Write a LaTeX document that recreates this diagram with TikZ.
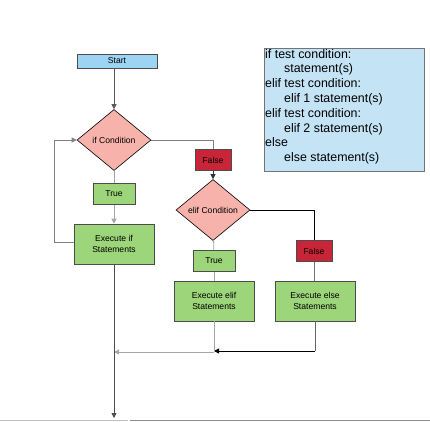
\documentclass[tikz,border=0pt]{standalone}
\usepackage{fontspec}
\setmainfont{Liberation Sans}
\usetikzlibrary{shapes.geometric,arrows.meta}
\definecolor{startblue}{HTML}{9DD3F3}
\definecolor{codeblue}{HTML}{C4E4F6}
\definecolor{diapink}{HTML}{F7B3AB}
\definecolor{falsered}{HTML}{C82638}
\definecolor{boxgreen}{HTML}{9DD57A}
\tikzset{
  base/.style={draw=black!70, line width=0.6pt, inner sep=0pt, align=center, font=\fontsize{8.6}{10.5}\selectfont},
  startbox/.style={base, fill=startblue, minimum width=80pt, minimum height=14pt},
  decision/.style={base, diamond, fill=diapink, draw=black, minimum width=74pt, minimum height=61pt, aspect=1.2},
  falsebox/.style={base, fill=falsered, minimum width=36pt, minimum height=21pt},
  truebox/.style={base, fill=boxgreen, minimum width=42pt, minimum height=21pt},
  execbox/.style={base, fill=boxgreen, minimum width=80pt, minimum height=40pt},
  conn/.style={line width=0.8pt, draw=black!65},
  lightconn/.style={line width=0.8pt, draw=black!35},
  tip/.style={-{Triangle[length=5pt,width=5pt]}},
}
\begin{document}
\begin{tikzpicture}[x=1pt,y=-1pt]
\useasboundingbox (0,0) rectangle (430,421);
% nodes
\node[startbox] (start) at (117,61) {Start};
\node[decision] (ifc) at (114,140) {if Condition};
\node[truebox] (t1) at (114,194) {True};
\node[execbox] (exif) at (114,244) {Execute if\\Statements};
\node[falsebox] (f1) at (213,160) {False};
\node[decision] (elifc) at (213,210) {elif Condition};
\node[truebox] (t2) at (214,261) {True};
\node[execbox] (exelif) at (214,301) {Execute elif\\Statements};
\node[falsebox] (f2) at (314,251) {False};
\node[execbox] (exelse) at (315,301) {Execute else\\Statements};
\node[base, draw=black!55, fill=codeblue, minimum width=160pt, minimum height=123pt] (code) at (344,109.5) {};
\node[anchor=north west, inner sep=0pt, align=left, font=\fontsize{12.4}{14.8}\selectfont] (codetext) at (265,49)
 {if test condition:\\
 \hspace{19pt}statement(s)\\
 elif test condition:\\
 \hspace{19pt}elif 1 statement(s)\\
 elif test condition:\\
 \hspace{19pt}elif 2 statement(s)\\
 else\\
 \hspace{19pt}else statement(s)};
% coordinates
\coordinate (loopL) at (54,242);
\coordinate (loopT) at (54,140);
\coordinate (ifR) at (213,140);
\coordinate (elifR) at (314,210);
\coordinate (mergeElse) at (315,351);
\coordinate (mergeElseEnd) at (214,351);
\coordinate (mergeElif) at (214,352);
\coordinate (mergeElifEnd) at (114,352);
\coordinate (endpt) at (114,418);
% connectors
\draw[conn, tip] (start.south -| ifc) -- (ifc);
\draw[lightconn] (ifc) -- (t1);
\draw[lightconn, -{Triangle[length=5pt,width=5pt]}] (t1) -- (exif);
\draw[conn, draw=black!50, tip] (exif.west |- loopL) -- (loopL) -- (loopT) -- (ifc.west);
\draw[conn, draw=black!50] (ifc.east) -- (ifR) -- (f1.north);
\draw[conn, draw=black!80, tip] (f1) -- (elifc);
\draw[lightconn] (elifc) -- (t2);
\draw[lightconn] (t2) -- (exelif);
\draw[conn, draw=black] (elifc.east) -- (elifR) -- (f2.north);
\draw[conn, draw=black!55] (f2) -- (exelse.north -| f2);
\draw[conn, draw=black!60] (exelse) -- (mergeElse);
\draw[conn, draw=black, tip] (mergeElse) -- (mergeElseEnd);
\draw[lightconn] (exelif) -- (mergeElif);
\draw[lightconn, tip] (mergeElif) -- (mergeElifEnd);
\draw[conn, draw=black!70, tip] (exif) -- (endpt);
\draw[line width=0.8pt, black!25] (0,420.5) -- (128,420.5);
\draw[line width=0.8pt, black!45] (130,420.5) -- (430,420.5);
\end{tikzpicture}
\end{document}
